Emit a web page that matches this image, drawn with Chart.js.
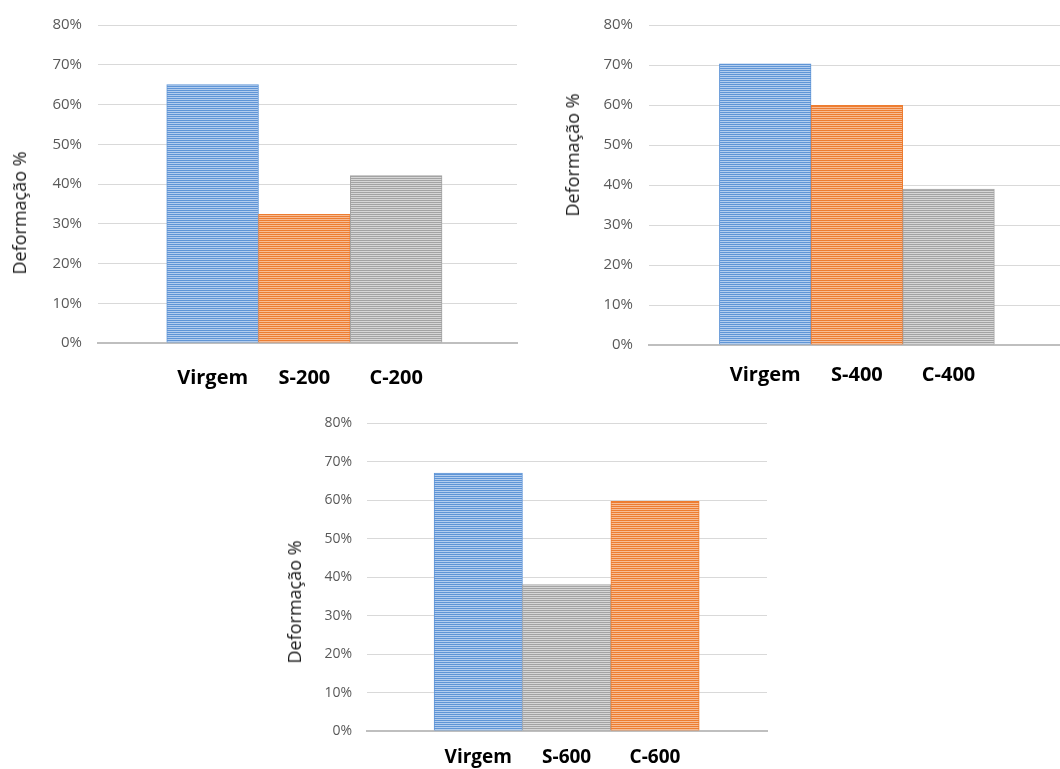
<!DOCTYPE html>
<html>
<head>
<meta charset="utf-8">
<script src="https://cdn.jsdelivr.net/npm/chart.js@4/dist/chart.umd.min.js"></script>
<style>
    body { margin: 0; background: #fff; }
    .wrap { position: absolute; }
    .ytitle {
        position: absolute;
        font-family: "Open Sans", sans-serif;
        font-size: 18px;
        color: #1a1a1a;
        white-space: nowrap;
        transform: translate(-50%, -50%) rotate(-90deg);
    }
</style>
</head>
<body>
<div class="wrap" style="left:0;top:0;"><canvas id="chart200" width="530" height="390"></canvas></div>
<div class="wrap" style="left:530px;top:0;"><canvas id="chart400" width="530" height="390"></canvas></div>
<div class="wrap" style="left:280px;top:400px;"><canvas id="chart600" width="500" height="369"></canvas></div>
<div class="ytitle" style="left:19px;top:213px;">Deformação %</div>
<div class="ytitle" style="left:572px;top:155px;">Deformação %</div>
<div class="ytitle" style="left:294px;top:602px;">Deformação %</div>

<script>
// Data (deformation in %)
const categories200 = ['Virgem', 'S-200', 'C-200'];
const values200 = [65, 32.4, 42.1];

const categories400 = ['Virgem', 'S-400', 'C-400'];
const values400 = [70.3, 59.9, 39];

const categories600 = ['Virgem', 'S-600', 'C-600'];
const values600 = [67.1, 38.1, 59.7];

const yTicks = [0, 10, 20, 30, 40, 50, 60, 70, 80];

// Striped fills like the original Excel bars
function stripes(ctx, dark, light) {
    const c = document.createElement('canvas');
    c.width = 4;
    c.height = 2;
    const g = c.getContext('2d');
    g.fillStyle = dark;
    g.fillRect(0, 0, 4, 1);
    g.fillStyle = light;
    g.fillRect(0, 1, 4, 1);
    return ctx.createPattern(c, 'repeat');
}

const palette = {
    blue: ['#5f95d6', '#b3cdee'],
    orange: ['#ed7d31', '#f7bc94'],
    gray: ['#a3a3a3', '#d6d6d6']
};

function makeChart(id, categories, values, colors, cfg) {
    const ctx = document.getElementById(id).getContext('2d');
    const fills = colors.map(c => stripes(ctx, palette[c][0], palette[c][1]));
    const borders = colors.map(c => palette[c][0]);

    return new Chart(ctx, {
        type: 'bar',
        data: {
            datasets: [{
                data: values.map((v, i) => ({ x: i, y: v })),
                backgroundColor: fills,
                borderColor: borders,
                borderWidth: 1,
                categoryPercentage: 1,
                barPercentage: 1
            }]
        },
        options: {
            responsive: false,
            animation: false,
            layout: {
                padding: { top: cfg.top, right: cfg.right, left: 0, bottom: 0 }
            },
            plugins: {
                legend: { display: false },
                tooltip: { enabled: false }
            },
            scales: {
                x: {
                    type: 'linear',
                    offset: false,
                    min: cfg.xmin,
                    max: cfg.xmax,
                    afterBuildTicks: s => { s.ticks = categories.map((_, i) => ({ value: i })); },
                    afterFit: s => { s.height = cfg.xh; },
                    grid: { display: false, drawTicks: false },
                    border: { display: true, color: '#bfbfbf', width: 2 },
                    ticks: {
                        autoSkip: false,
                        maxRotation: 0,
                        padding: cfg.xpad,
                        color: '#000',
                        font: { family: 'Open Sans', size: cfg.xfont, weight: 'bold' },
                        callback: v => categories[v]
                    }
                },
                y: {
                    min: 0,
                    max: 80,
                    afterBuildTicks: s => { s.ticks = yTicks.map(v => ({ value: v })); },
                    afterFit: s => { s.width = cfg.left; },
                    grid: { color: '#d9d9d9', drawTicks: false },
                    border: { display: false },
                    ticks: {
                        padding: cfg.ypad,
                        color: '#595959',
                        font: { family: 'Open Sans', size: cfg.yfont },
                        callback: v => v + '%'
                    }
                }
            }
        }
    });
}

makeChart('chart200', categories200, values200, ['blue', 'orange', 'gray'], {
    top: 22, right: 13, left: 98, xh: 47, xmin: -1.249, xmax: 3.317,
    xpad: 23, xfont: 20, ypad: 16, yfont: 15
});

makeChart('chart400', categories400, values400, ['blue', 'orange', 'gray'], {
    top: 23, right: 0, left: 119, xh: 45, xmin: -1.268, xmax: 3.216,
    xpad: 18, xfont: 20, ypad: 16, yfont: 15
});

makeChart('chart600', categories600, values600, ['blue', 'gray', 'orange'], {
    top: 20, right: 13, left: 87, xh: 38, xmin: -1.259, xmax: 3.267,
    xpad: 15, xfont: 19, ypad: 15, yfont: 14
});
</script>
</body>
</html>
